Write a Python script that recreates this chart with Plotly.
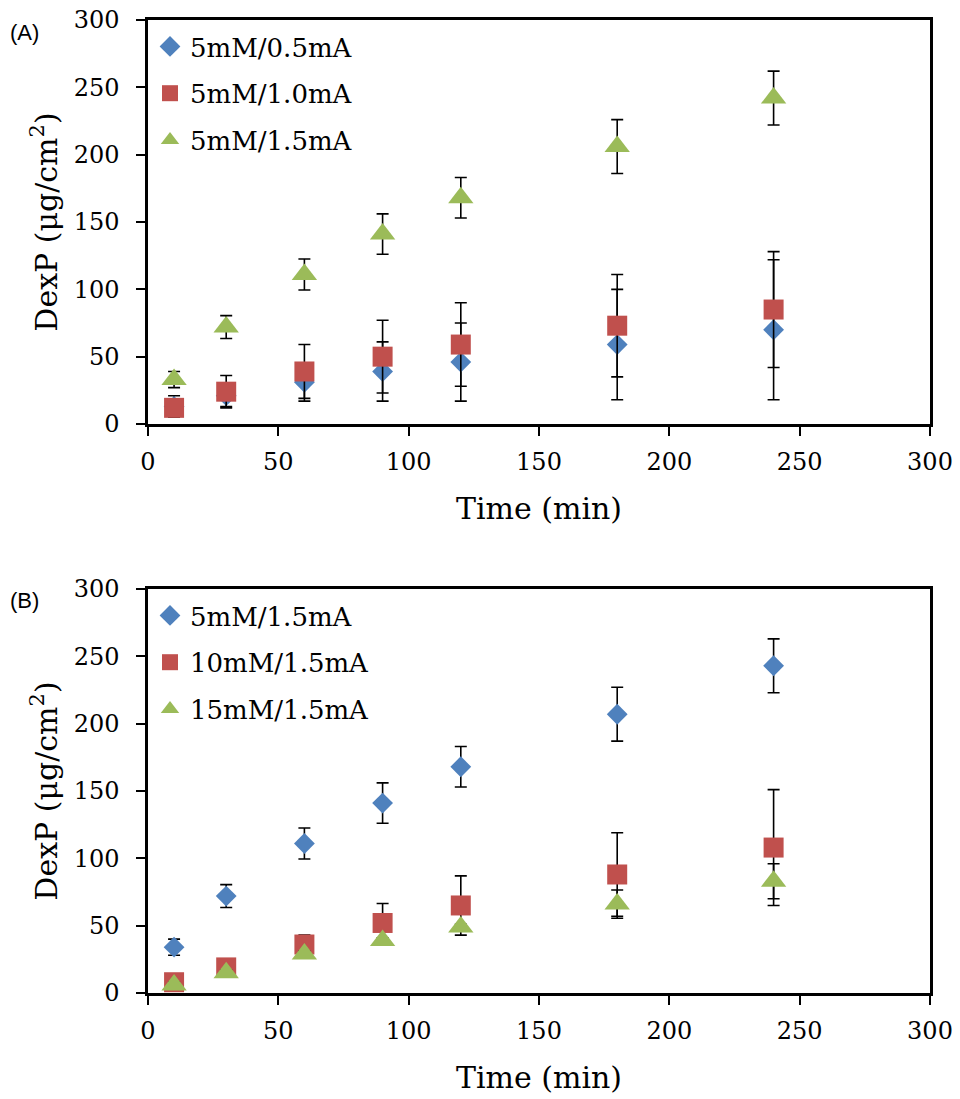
import plotly.graph_objects as go

# ---- data ----
time_min = [10, 30, 60, 90, 120, 180, 240]

# Panel A
a_names = ["5mM/0.5mA", "5mM/1.0mA", "5mM/1.5mA"]
a_05 = [13, 21, 31, 39, 46, 59, 70]
a_05_err = [8, 8, 14, 22, 29, 41, 52]
a_10 = [12, 24, 39, 50, 59, 73, 85]
a_10_err = [4, 12, 20, 27, 31, 38, 43]
a_15 = [33, 72, 111, 141, 168, 206, 242]
a_15_err = [6, 8.5, 11.5, 15, 15, 20, 20]

# Panel B
b_names = ["5mM/1.5mA", "10mM/1.5mA", "15mM/1.5mA"]
b_5 = [34, 72, 111, 141, 168, 207, 243]
b_5_err = [6, 8.5, 11.5, 15, 15, 20, 20]
b_10 = [8, 19, 36, 52, 65, 88, 108]
b_10_err = [3, 4, 7, 14.5, 22, 31, 43]
b_15 = [6, 15, 29, 39, 49, 66, 83]
b_15_err = [2, 2, 2, 2, 2, 10.5, 13]

x_ticks = [0, 50, 100, 150, 200, 250, 300]
y_ticks = [0, 50, 100, 150, 200, 250, 300]

# ---- style ----
colors = ["#4F81BD", "#C0504D", "#9BBB59"]
symbols = ["diamond", "square", "triangle-up"]
sizes = [16, 20, 22]
SERIF = "DejaVu Serif"

fig = go.Figure()

def add_series(ys, errs, names, xaxis, yaxis, legend):
    for i, (y, e, n) in enumerate(zip(ys, errs, names)):
        fig.add_trace(go.Scatter(
            x=time_min, y=y, name=n, mode="markers",
            xaxis=xaxis, yaxis=yaxis, legend=legend, legendgroup=legend + str(i),
            marker=dict(symbol=symbols[i], size=sizes[i], color=colors[i]),
            error_y=dict(type="data", array=e, visible=True, color="black",
                         thickness=1.6, width=6),
        ))

add_series([a_05, a_10, a_15], [a_05_err, a_10_err, a_15_err], a_names, "x", "y", "legend")
add_series([b_5, b_10, b_15], [b_5_err, b_10_err, b_15_err], b_names, "x2", "y2", "legend2")

W, H = 960, 1099
xdom = [148 / W, 930 / W]
ydomA = [1 - 424 / H, 1 - 20 / H]
ydomB = [1 - 993 / H, 1 - 589 / H]

axis_common = dict(showline=True, linecolor="black", linewidth=2.5, mirror=True,
                   ticks="outside", ticklen=9, tickwidth=2, tickcolor="black",
                   showgrid=False, zeroline=False, automargin=False,
                   tickfont=dict(family=SERIF, size=24, color="black"))

def xax(anchor):
    return dict(axis_common, domain=xdom, anchor=anchor, range=[0, 300],
                tickvals=x_ticks, ticklabelstandoff=5,
                title=dict(text="Time (min)", font=dict(family=SERIF, size=30, color="black"),
                           standoff=24))

def yax(anchor, dom):
    return dict(axis_common, domain=dom, anchor=anchor, range=[0, 300],
                tickvals=y_ticks, ticklabelstandoff=12,
                title=dict(text="DexP (μg/cm<sup>2</sup>)",
                           font=dict(family=SERIF, size=30, color="black"), standoff=8))

legend_common = dict(xanchor="left", yanchor="top", bgcolor="rgba(0,0,0,0)",
                     font=dict(family=SERIF, size=26, color="black"),
                     tracegroupgap=10, itemsizing="trace", itemwidth=30)

fig.update_layout(
    width=W, height=H,
    margin=dict(l=0, r=0, t=0, b=0),
    paper_bgcolor="white", plot_bgcolor="white",
    xaxis=xax("y"), yaxis=yax("x", ydomA),
    xaxis2=xax("y2"), yaxis2=yax("x2", ydomB),
    legend=dict(legend_common, x=150 / W, y=1 - 23 / H),
    legend2=dict(legend_common, x=150 / W, y=1 - 592 / H),
    annotations=[
        dict(text="(A)", x=8 / W, y=1 - 33 / H, xref="paper", yref="paper",
             xanchor="left", yanchor="middle", showarrow=False,
             font=dict(family="Liberation Sans", size=22, color="black")),
        dict(text="(B)", x=8 / W, y=1 - 600 / H, xref="paper", yref="paper",
             xanchor="left", yanchor="middle", showarrow=False,
             font=dict(family="Liberation Sans", size=22, color="black")),
    ],
)

fig.write_html("out.html")
